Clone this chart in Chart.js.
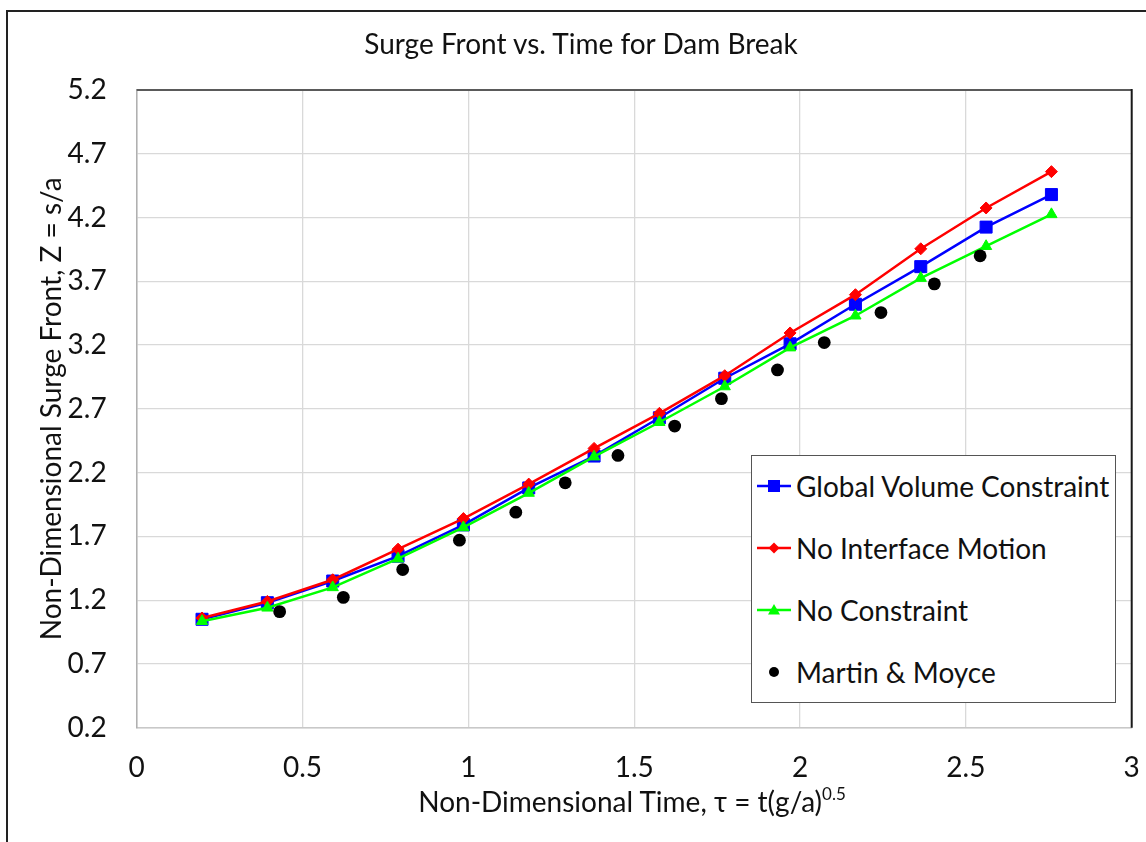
<!DOCTYPE html>
<html>
<head>
<meta charset="utf-8">
<script src="https://cdn.jsdelivr.net/npm/chart.js@4.4.1/dist/chart.umd.min.js"></script>
<style>
    body { margin: 0; background: #fff; }
    #wrap { position: relative; width: 1146px; height: 842px; overflow: hidden; font-family: Lato, sans-serif; }
    #frame { position: absolute; left: 6px; top: 10px; right: -10px; bottom: -10px;
             border-top: 2px solid #222; border-left: 2px solid #222; pointer-events: none; }
    #title { position: absolute; left: 0; width: 1162px; top: 26px; line-height: 34px; text-align: center;
             font-size: 28px; color: #111; white-space: nowrap; }
    #xTitle { position: absolute; left: 0; width: 1264px; top: 784px; text-align: center;
              font-size: 28px; color: #111; white-space: nowrap; }
    #xTitle sup { font-size: 17px; vertical-align: 12px; line-height: 0; }
    #legend { position: absolute; left: 751px; top: 455px; width: 363px; height: 246px;
              border: 1.5px solid #555; background: #fff; }
    .item { position: absolute; left: 4px; height: 40px; display: flex; align-items: center;
            font-size: 28px; color: #111; white-space: nowrap; }
    .item svg { margin-right: 4px; }
</style>
</head>
<body>
<div id="wrap">
    <canvas id="chart" width="1146" height="842"></canvas>
    <div id="title">Surge Front vs. Time for Dam Break</div>
    <div id="xTitle">Non-Dimensional Time, τ = t(g/a)<sup>0.5</sup></div>
    <div id="legend"></div>
    <div id="frame"></div>
</div>
<script>
// time values of the computed runs
const tauModel = [0.197, 0.394, 0.591, 0.788, 0.985, 1.182, 1.379, 1.576, 1.773, 1.97, 2.167, 2.364, 2.561, 2.758];
const zGlobal = [1.05, 1.18, 1.35, 1.545, 1.79, 2.08, 2.33, 2.63, 2.94, 3.21, 3.52, 3.815, 4.125, 4.38];
const zNoInterface = [1.06, 1.19, 1.36, 1.6, 1.84, 2.11, 2.39, 2.665, 2.96, 3.295, 3.595, 3.955, 4.275, 4.56];
const zNoConstraint = [1.035, 1.14, 1.3, 1.525, 1.77, 2.04, 2.325, 2.595, 2.875, 3.18, 3.43, 3.725, 3.975, 4.225];

// experiment (Martin & Moyce)
const tauExp = [0.431, 0.623, 0.802, 0.973, 1.143, 1.292, 1.451, 1.622, 1.763, 1.932, 2.073, 2.244, 2.405, 2.543];
const zExp = [1.11, 1.222, 1.44, 1.67, 1.89, 2.12, 2.335, 2.565, 2.78, 3.005, 3.22, 3.455, 3.68, 3.9];

const seriesLabels = ['Global Volume Constraint', 'No Interface Motion', 'No Constraint', 'Martin & Moyce'];

/**
 * ghép hai mảng x, y thành mảng điểm
 */
function toPoints(xs, ys) {
    return xs.map((x, i) => ({ x: x, y: ys[i] }));
}

// viền trên và phải của vùng vẽ
const plotBorder = {
    id: 'plotBorder',
    beforeDatasetsDraw(chart) {
        const { ctx, chartArea } = chart;
        ctx.save();
        ctx.lineWidth = 2;
        ctx.strokeStyle = '#5a5a5a';
        ctx.beginPath();
        ctx.moveTo(chartArea.left, chartArea.top);
        ctx.lineTo(chartArea.right, chartArea.top);
        ctx.stroke();
        ctx.strokeStyle = '#1a1a1a';
        ctx.beginPath();
        ctx.moveTo(chartArea.right, chartArea.top - 1);
        ctx.lineTo(chartArea.right, chartArea.bottom);
        ctx.stroke();
        ctx.restore();
    }
};

const datasets = [
    {
        label: seriesLabels[0],
        data: toPoints(tauModel, zGlobal),
        showLine: true,
        borderColor: '#0000ff',
        backgroundColor: '#0000ff',
        borderWidth: 2.5,
        pointStyle: 'rect',
        pointRadius: 8.5,
        pointBorderWidth: 1,
        order: 3
    },
    {
        label: seriesLabels[1],
        data: toPoints(tauModel, zNoInterface),
        showLine: true,
        borderColor: '#ff0000',
        backgroundColor: '#ff0000',
        borderWidth: 2.5,
        pointStyle: 'rectRot',
        pointRadius: 6,
        pointBorderWidth: 1,
        order: 2
    },
    {
        label: seriesLabels[2],
        data: toPoints(tauModel, zNoConstraint),
        showLine: true,
        borderColor: '#00ff00',
        backgroundColor: '#00ff00',
        borderWidth: 2.5,
        pointStyle: 'triangle',
        pointRadius: 6.5,
        pointBorderWidth: 1,
        order: 1
    },
    {
        label: seriesLabels[3],
        data: toPoints(tauExp, zExp),
        showLine: false,
        borderColor: '#000000',
        backgroundColor: '#000000',
        pointStyle: 'circle',
        pointRadius: 6.4,
        pointBorderWidth: 0,
        order: 0
    }
];

const fontFamily = 'Lato, sans-serif';

const config = {
    type: 'scatter',
    data: { datasets: datasets },
    options: {
        responsive: false,
        animation: false,
        layout: { padding: { top: 90, right: 14.3, left: 0, bottom: 0 } },
        plugins: {
            legend: { display: false },
            tooltip: { enabled: false }
        },
        scales: {
            x: {
                type: 'linear',
                min: 0,
                max: 3,
                ticks: {
                    stepSize: 0.5,
                    padding: 23,
                    color: '#111',
                    font: { family: fontFamily, size: 28, lineHeight: 1.2 },
                    callback: (v) => String(v)
                },
                grid: { color: '#d9d9d9', lineWidth: 1.3, drawTicks: false },
                border: { color: '#c8c8c8', width: 1.5 },
                afterFit(scale) {
                    scale.height = 842 - 727.7;
                    scale.paddingLeft = 0;
                    scale.paddingRight = 0;
                }
            },
            y: {
                type: 'linear',
                min: 0.2,
                max: 5.2,
                ticks: {
                    stepSize: 0.5,
                    padding: 30,
                    color: '#111',
                    font: { family: fontFamily, size: 28, lineHeight: 1.2 },
                    callback: (v) => v.toFixed(1)
                },
                grid: { color: '#d9d9d9', lineWidth: 1.3, drawTicks: false },
                border: { color: '#b0b0b0', width: 1.5 },
                title: {
                    display: true,
                    text: 'Non-Dimensional Surge Front, Z = s/a',
                    color: '#111',
                    font: { family: fontFamily, size: 28, lineHeight: 1.2 },
                    padding: { top: 35, bottom: 0 }
                },
                afterFit(scale) {
                    scale.width = 136.7;
                    scale.paddingTop = 0;
                    scale.paddingBottom = 0;
                }
            }
        }
    },
    plugins: [plotBorder]
};

new Chart(document.getElementById('chart'), config);

// chú thích vẽ bằng html, lấy màu và ký hiệu từ datasets
function markerSvg(ds) {
    const c = ds.backgroundColor;
    let line = ds.showLine ? `<line x1="1" y1="12" x2="35" y2="12" stroke="${c}" stroke-width="2.5"/>` : '';
    let mark = '';
    if (ds.pointStyle === 'rect') mark = `<rect x="12" y="6" width="12" height="12" fill="${c}"/>`;
    if (ds.pointStyle === 'rectRot') mark = `<polygon points="18,6.5 23.5,12 18,17.5 12.5,12" fill="${c}"/>`;
    if (ds.pointStyle === 'triangle') mark = `<polygon points="18,6 24,16.5 12,16.5" fill="${c}"/>`;
    if (ds.pointStyle === 'circle') mark = `<circle cx="18" cy="12" r="5" fill="${c}"/>`;
    return `<svg width="36" height="24">${line}${mark}</svg>`;
}

const rowTops = [10, 72, 134, 196];
const legendEl = document.getElementById('legend');
datasets.forEach((ds, i) => {
    const el = document.createElement('div');
    el.className = 'item';
    el.style.top = rowTops[i] + 'px';
    el.innerHTML = markerSvg(ds) + '<span>' + ds.label + '</span>';
    legendEl.appendChild(el);
});
</script>
</body>
</html>
